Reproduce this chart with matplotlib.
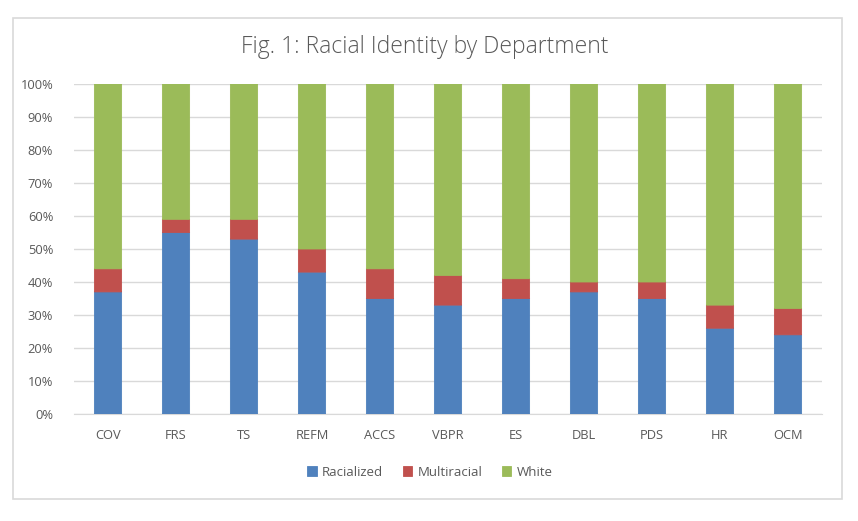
import matplotlib
matplotlib.use("Agg")
import matplotlib.pyplot as plt
from matplotlib.patches import Rectangle
from matplotlib.ticker import PercentFormatter

# data (percent of staff)
departments = ["COV", "FRS", "TS", "REFM", "ACCS", "VBPR", "ES", "DBL", "PDS", "HR", "OCM"]
racialized = [37, 55, 53, 43, 35, 33, 35, 37, 35, 26, 24]
multiracial = [7, 4, 6, 7, 9, 9, 6, 3, 5, 7, 8]
white = [56, 41, 41, 50, 56, 58, 59, 60, 60, 67, 68]

series = [("Racialized", racialized, "#4F81BD"),
          ("Multiracial", multiracial, "#C0504D"),
          ("White", white, "#9BBB59")]

text_col = "#595959"
plt.rcParams["font.family"] = ["Open Sans", "DejaVu Sans"]

fig = plt.figure(figsize=(8.58, 5.21), dpi=100)
W, H = 858, 521
ax = fig.add_axes([74 / W, 1 - 414 / H, (822 - 74) / W, (414 - 84) / H])

# outer chart border
fig.patches.append(Rectangle((12.5 / W, 1 - 499 / H), (841.5 - 12.5) / W, (499 - 17.5) / H,
                             transform=fig.transFigure, fill=False,
                             edgecolor="#D9D9D9", linewidth=1.2))

x = range(len(departments))
bottom = [0] * len(departments)
for name, vals, col in series:
    ax.bar(x, vals, width=0.4, bottom=bottom, color=col, edgecolor=col,
           linewidth=0.6, label=name, zorder=3, snap=False)
    bottom = [b + v for b, v in zip(bottom, vals)]

ax.set_xlim(-0.5, len(departments) - 0.5)
ax.set_ylim(0, 100)
ax.set_yticks(range(0, 101, 10))
ax.yaxis.set_major_formatter(PercentFormatter(decimals=0))
ax.set_xticks(list(x))
ax.set_xticklabels(departments)
ax.grid(axis="y", color="#D9D9D9", linewidth=1, zorder=0)
for s in ["top", "right", "left"]:
    ax.spines[s].set_visible(False)
ax.spines["bottom"].set_color("#D9D9D9")
ax.tick_params(axis="both", length=0, labelsize=9.3, colors=text_col)
ax.tick_params(axis="y", pad=15)
ax.tick_params(axis="x", pad=11)

fig.text(425 / W, 1 - 47 / H, "Fig. 1: Racial Identity by Department",
         ha="center", va="center", fontsize=16.5, color=text_col, fontweight="light")

fig.legend(loc="center", bbox_to_anchor=(430 / W, 1 - 472 / H), ncol=3, frameon=False,
           fontsize=9.5, labelcolor=text_col, handlelength=0.7, handleheight=0.7,
           handletextpad=0.4, columnspacing=1.5)

fig.savefig("out.png", dpi=100, facecolor="white")
